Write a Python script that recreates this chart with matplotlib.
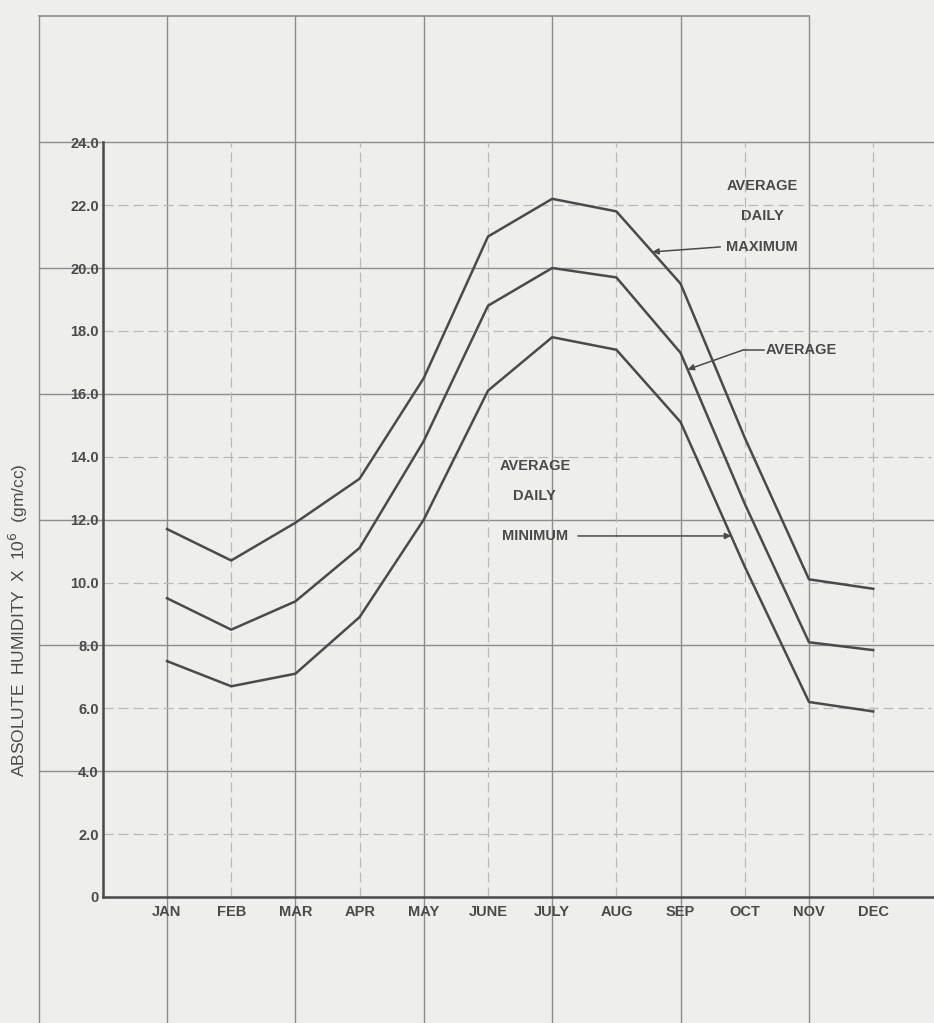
import numpy as np
import matplotlib
matplotlib.use('Agg')
import matplotlib.pyplot as plt

months = ['JAN', 'FEB', 'MAR', 'APR', 'MAY', 'JUNE', 'JULY', 'AUG', 'SEP', 'OCT', 'NOV', 'DEC']
daily_max = [11.7, 10.7, 11.9, 13.3, 16.5, 21.0, 22.2, 21.8, 19.5, 14.6, 10.1, 9.8]
average = [9.5, 8.5, 9.4, 11.1, 14.5, 18.8, 20.0, 19.7, 17.3, 12.5, 8.1, 7.85]
daily_min = [7.5, 6.7, 7.1, 8.9, 12.0, 16.1, 17.8, 17.4, 15.1, 10.5, 6.2, 5.9]
yticks = [0, 2, 4, 6, 8, 10, 12, 14, 16, 18, 20, 22, 24]
ylabels = ['0', '2.0', '4.0', '6.0', '8.0', '10.0', '12.0', '14.0', '16.0', '18.0', '20.0', '22.0', '24.0']

W, H = 934, 1023
x0, dx = 167.0, 64.2      # pixel of JAN, pixels per month
y0, dy = 897.0, 31.45     # pixel of 0, pixels per unit

paper = '#eeeeec'
ink = '#4a4a4a'
grid_major = '#8c8c8c'
grid_minor = '#b8b8b8'
fam = ['Liberation Sans', 'DejaVu Sans']

fig = plt.figure(figsize=(W / 100, H / 100), dpi=100, facecolor=paper)

# graph paper behind the chart, same data mapping as the chart
bg = fig.add_axes([0, 0, 1, 1], facecolor=paper)
bg.set_xlim(-x0 / dx, (W - x0) / dx)
bg.set_ylim((y0 - H) / dy, y0 / dy)
bg.axis('off')
for i in range(-2, 11, 2):
    bg.plot([i, i], [(y0 - H) / dy, 28], color=grid_major, lw=1.0)
bg.plot([-2, 10], [28, 28], color=grid_major, lw=1.2)
for v in range(4, 25, 4):
    bg.plot([-2, (W - x0) / dx], [v, v], color=grid_major, lw=1.0)

# chart area
left = (103 - x0) / dx
ax = fig.add_axes([103 / W, (H - y0) / H, (W - 103) / W, 24 * dy / H])
ax.set_facecolor('none')
ax.set_xlim(left, (W - x0) / dx)
ax.set_ylim(0, 24)
for i in range(1, 12, 2):
    ax.plot([i, i], [0, 24], color=grid_minor, lw=0.9, ls=(0, (8, 4)))
for v in range(2, 24, 4):
    ax.plot([left, 11.9], [v, v], color=grid_minor, lw=0.9, ls=(0, (8, 4)))

x = np.arange(len(months))
for series in [daily_max, average, daily_min]:
    ax.plot(x, series, color=ink, lw=1.8)

for s in ['top', 'right']:
    ax.spines[s].set_visible(False)
for s in ['left', 'bottom']:
    ax.spines[s].set_color(ink)
    ax.spines[s].set_linewidth(1.8)

ax.set_xticks(x)
ax.set_xticklabels(months)
ax.set_yticks(yticks)
ax.set_yticklabels(ylabels)
ax.tick_params(axis='both', length=0, colors=ink, labelsize=10.5)
ax.tick_params(axis='y', pad=3)
ax.tick_params(axis='x', pad=6)
for t in ax.get_xticklabels() + ax.get_yticklabels():
    t.set_family(fam)
    t.set_fontweight('bold')

ax.set_ylabel('ABSOLUTE  HUMIDITY  X  10$^{6}$  (gm/cc)', color=ink,
              fontsize=12.5, family=fam)
ax.yaxis.set_label_coords(-0.088, 0.367)

tkw = dict(color=ink, fontsize=10.5, fontweight='bold', family=fam, ha='center', va='center')
arw = dict(arrowstyle='-|>', color=ink, lw=1.1, shrinkA=0, shrinkB=0, mutation_scale=9)

# average daily maximum label
ax.text(9.27, 22.61, 'AVERAGE', **tkw)
ax.text(9.27, 21.65, 'DAILY', **tkw)
ax.text(9.27, 20.67, 'MAXIMUM', **tkw)
tx = 7.56
ax.annotate('', xy=(tx, np.interp(tx, x, daily_max)), xytext=(8.62, 20.67), arrowprops=arw)

# average label
ax.text(9.88, 17.39, 'AVERAGE', **tkw)
ax.plot([9.3, 8.97], [17.39, 17.39], color=ink, lw=1.1)
tx = 8.11
ax.annotate('', xy=(tx, np.interp(tx, x, average)), xytext=(8.97, 17.39), arrowprops=arw)

# average daily minimum label
ax.text(5.73, 13.70, 'AVERAGE', **tkw)
ax.text(5.73, 12.75, 'DAILY', **tkw)
ax.text(5.73, 11.48, 'MINIMUM', **tkw)
ty = 11.48
tx = 8 + (daily_min[8] - ty) / (daily_min[8] - daily_min[9])
ax.annotate('', xy=(tx, ty), xytext=(6.4, ty), arrowprops=arw)

fig.savefig('out.png', dpi=100, facecolor=paper)
